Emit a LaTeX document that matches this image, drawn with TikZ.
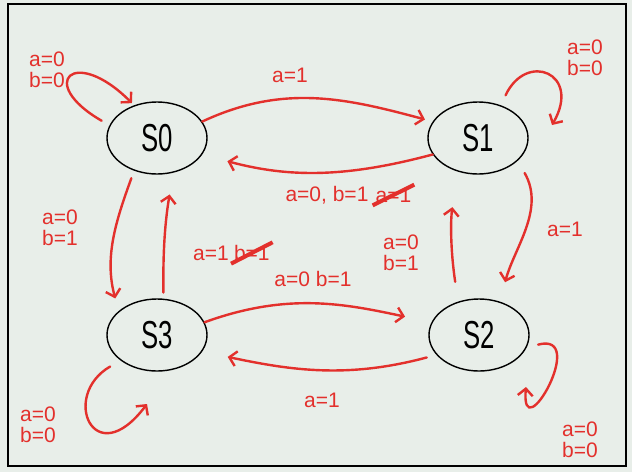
\documentclass[tikz,border=0pt]{standalone}
\usepackage{fontspec}
\setmainfont{Liberation Sans}
\newfontfamily\statefont[FakeStretch=0.66]{Liberation Sans}
\usetikzlibrary{shapes.geometric, shapes.misc, arrows.meta, positioning}
\definecolor{paper}{HTML}{E8EEE9}
\definecolor{pen}{HTML}{E3302C}
\tikzset{
  % stato della macchina
  state/.style={ellipse, draw=black, line width=1.4pt, minimum width=100pt,
    minimum height=72pt, inner sep=0pt, font=\statefont\fontsize{39}{39}\selectfont},
  % transizione scritta a mano
  trans/.style={draw=pen, line width=2.4pt, line cap=round,
    -{Straight Barb[length=7pt, width=15pt]}},
  % etichette a mano
  hand/.style={text=pen, font=\fontsize{21}{21}\selectfont, align=left, inner sep=1pt},
  struck/.style={hand, strike out, draw=pen, line width=4pt},
}

\begin{document}
\begin{tikzpicture}[x=1pt, y=1pt]
  \useasboundingbox (0,0) rectangle (632,-472);
  \fill[paper] (0,0) rectangle (632,-472);
  \draw[black, line width=1.8pt] (8,-4) rectangle (626,-466);

  \node[state] (s0) at (157,-138) {S0};
  \node[state] (s1) at (478,-138) {S1};
  \node[state] (s2) at (479,-335) {S2};
  \node[state] (s3) at (157,-335) {S3};
  \coordinate (s1end) at (552,-125);
  \coordinate (s2end) at (526,-387);
  \coordinate (s3end) at (147,-404);

  \node[hand] (l00) at (47,-70) {a=0\\b=0};
  \node[hand] (l01) at (290,-75) {a=1};
  \node[hand] (l10) at (327,-195) {a=0, b=1};
  \node[struck, right=3pt of l10] (l10x) {a=1};
  \node[hand] (l11) at (585,-58) {a=0\\b=0};
  \node[hand] (l12) at (565,-229) {a=1};
  \node[hand] (l21) at (401,-253) {a=0\\b=1};
  \node[hand] (l03) at (60,-228) {a=0\\b=1};
  \node[hand] (l30) at (211,-253) {a=1};
  \node[struck, right=1pt of l30] (l30x) {b=1};
  \node[hand] (l32) at (313,-279) {a=0 b=1};
  \node[hand] (l23) at (322,-400) {a=1};
  \node[hand] (l33) at (38,-425) {a=0\\b=0};
  \node[hand] (l22) at (580,-440) {a=0\\b=0};

  \draw[trans, shorten >=8pt] (s0.20) to[out=25, in=165] (s1.160);
  \draw[trans, shorten >=26pt] (s1.200) to[out=195, in=-15] (s0.340);
  \draw[trans, shorten <=14pt, shorten >=20pt] (s1.330) to[out=-60, in=75] (s2.58);
  \draw[trans, shorten <=20pt, shorten >=36pt] (s2.122) to[bend left=8] (s1.238);
  \draw[trans, shorten <=8pt, shorten >=13pt] (s0.235) to[out=250, in=105] (s3.148);
  \draw[trans, shorten <=6pt, shorten >=22pt] (s3.80) to[bend left=5] (s0.295);
  \draw[trans, shorten >=27pt] (s3.15) to[out=20, in=168] (s2.165);
  \draw[trans, shorten <=10pt, shorten >=26pt] (s2.205) to[out=195, in=-12] (s3.340);

  \draw[trans, shorten <=9pt, shorten >=3pt] (s0.165) to[out=150, in=135, distance=85pt] (s0.125);
  \draw[trans, shorten <=11pt] (s1.55) to[out=65, in=60, distance=60pt] (s1end);
  \draw[trans, shorten <=12pt] (s3.215) to[out=210, in=233, out distance=70pt, in distance=88pt] (s3end);
  \draw[trans, shorten <=12pt] (s2.345) to[out=15, in=265, distance=65pt] (s2end);
\end{tikzpicture}
\end{document}
